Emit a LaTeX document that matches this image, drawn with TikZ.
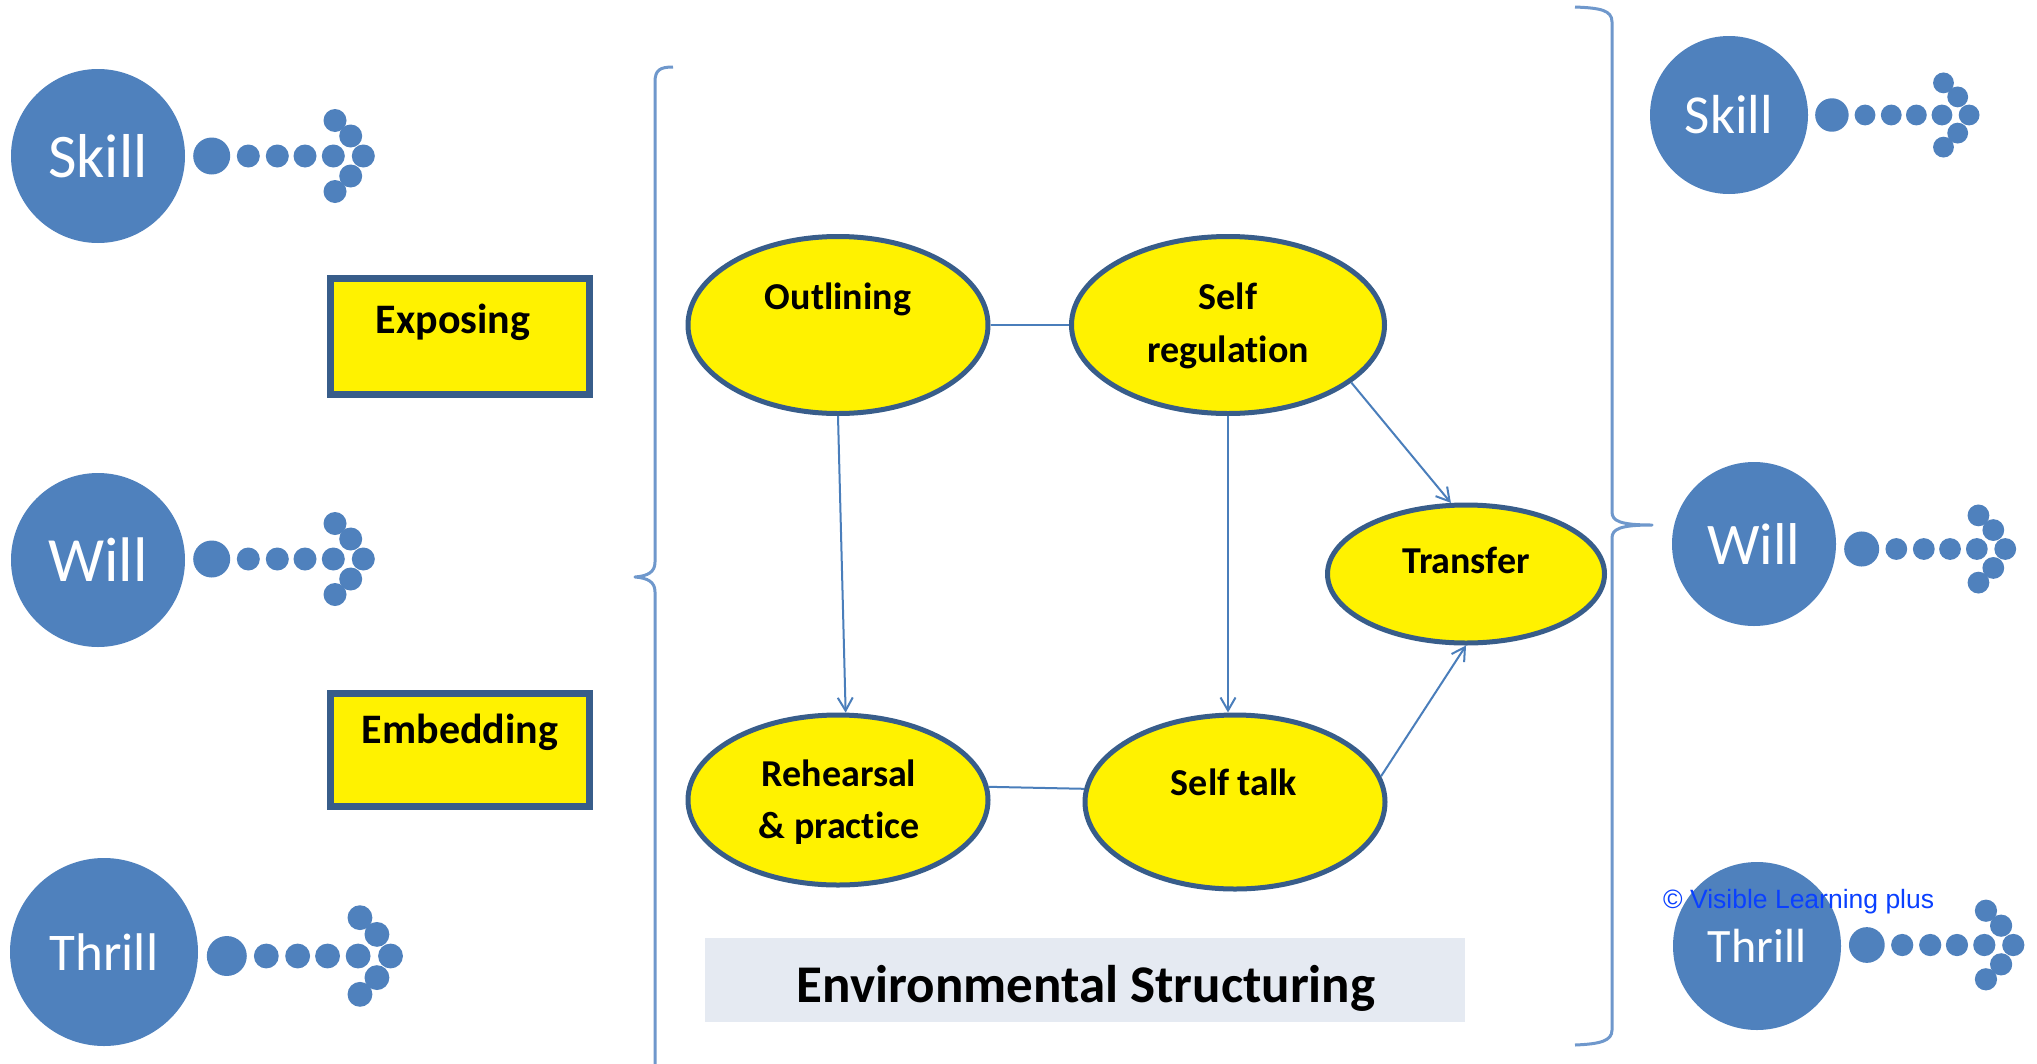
\documentclass[tikz,border=0pt]{standalone}
\usepackage{fontspec}
\setmainfont{Carlito}[Ligatures=NoCommon]
\newfontfamily\arialfont{Liberation Sans}
\usetikzlibrary{shapes.geometric,arrows.meta,calc}
\definecolor{circblue}{HTML}{4F81BD}
\definecolor{edgeblue}{HTML}{385D8A}
\definecolor{linkblue}{HTML}{4A7EBB}
\definecolor{bracecol}{HTML}{6F98CC}
\definecolor{envfill}{HTML}{E5EAF2}
\definecolor{copyblue}{HTML}{0A40FF}

\newcommand{\fs}[1]{\fontsize{#1}{#1}\selectfont}

% bubble with a dotted arrow: name, x, y, radius, arrow row y, scale, font size, text
\newcommand{\bubblerow}[8]{%
  \node[bubble, minimum size=2*#4, font=\fs{#7}] (#1) at (#2,#3) {#8};
  \begin{scope}[shift={(#2,#5)}, scale=#6]
    \fill[circblue] (113.7,0) circle[radius=18.5];
    \foreach \dx in {150.3,179.3,207,235.3,265.3}
      \fill[circblue] (\dx,0) circle[radius=11.5];
    \foreach \px/\py in {252.7/-20,237/-35.5,252.7/20,237/35.5}
      \fill[circblue] (\px,\py) circle[radius=11.5];
  \end{scope}}

\begin{document}
\begin{tikzpicture}[x=1pt,y=-1pt,
  bubble/.style={circle, fill=circblue, text=white, inner sep=0pt},
  stage/.style={ellipse, draw=edgeblue, line width=5pt, fill=yellow, inner sep=0pt},
  tagbox/.style={draw=edgeblue, line width=7pt, fill=yellow, inner sep=0pt},
  lbl/.style={font=\bfseries\fs{38}, anchor=base, inner sep=0pt},
  tagtext/.style={font=\bfseries\fs{42}, anchor=base, inner sep=0pt},
  link/.style={draw=linkblue, line width=2pt},
  arr/.style={link, -{Straight Barb[length=13pt,width=15pt]}},
  brace/.style={draw=bracecol, line width=3pt, line join=round}]

\useasboundingbox (0,0) rectangle (2037,1063);
\fill[white] (0,0) rectangle (2037,1063);

% left column
\bubblerow{skillL}{98}{156}{87}{156}{1}{62}{Skill}
\bubblerow{willL}{98}{560}{87}{559}{1}{63}{Will}
\bubblerow{thrillL}{104}{952}{94}{956}{1.08}{53}{Thrill}

% right column
\bubblerow{skillR}{1729}{115}{79}{115}{0.905}{55}{Skill}
\bubblerow{willR}{1754}{544}{82}{549}{0.947}{59}{Will}
\bubblerow{thrillR}{1757}{946}{84}{945}{0.966}{48}{Thrill}

% tag boxes
\node[tagbox, minimum width=259, minimum height=116] (exposing) at (460,336.5) {};
\node[tagtext] (exposingT) at (453,333) {Exposing};
\node[tagbox, minimum width=259, minimum height=113] (embedding) at (460,750) {};
\node[tagtext] (embeddingT) at (460,743) {Embedding};

% braces
\draw[brace] (673,67) .. controls (660,67) and (655,70) .. (655,82) -- (655,562)
  .. controls (655,572) and (648,576) .. (635,577)
  .. controls (648,578) and (655,582) .. (655,592) -- (655,1070);
\draw[brace] (1575,7) .. controls (1600,8) and (1612,10) .. (1612,22) -- (1612,512)
  .. controls (1612,521) and (1620,525) .. (1652,525)
  .. controls (1620,525) and (1612,529) .. (1612,538) -- (1612,1030)
  .. controls (1612,1041) and (1600,1044) .. (1575,1045);

% stages
\node[stage, minimum width=300, minimum height=177] (outlining) at (838,325) {};
\node[stage, minimum width=313, minimum height=177] (selfreg) at (1228,325) {};
\node[stage, minimum width=277, minimum height=138] (transfer) at (1466,574) {};
\node[stage, minimum width=300, minimum height=170] (rehearsal) at (838,800) {};
\node[stage, minimum width=300, minimum height=174] (selftalk) at (1235,802) {};

\node[lbl] (outliningT) at (838,309) {Outlining};
\node[lbl] (selfregT1) at (1228,309) {Self};
\node[lbl] (selfregT2) at (1228,362) {regulation};
\node[lbl] (transferT) at (1466,573) {Transfer};
\node[lbl] (rehearsalT1) at (839,786) {Rehearsal};
\node[lbl] (rehearsalT2) at (839,838) {\& practice};
\node[lbl] (selftalkT) at (1234,795) {Self talk};

% connectors
\draw[link] (outlining.east) -- (selfreg.west);
\draw[link] (rehearsal.5) -- (selftalk.175);
\draw[arr] (outlining.south) -- (rehearsal.85);
\draw[arr] (selfreg.south) -- (selfreg.south |- selftalk.north);
\draw[arr] (selfreg.-25) -- (transfer.102);
\draw[arr] (selftalk.10) -- (transfer.south);

% footer band
\node[fill=envfill, minimum width=760, minimum height=84, inner sep=0pt] (envbox) at (1085,980) {};
\node[font=\bfseries\fs{53}, anchor=base, inner sep=0pt] (envT) at (1086,1002) {Environmental Structuring};

% copyright line
\node[font=\arialfont\fs{26.5}, text=copyblue, anchor=base west, inner sep=0pt] (copy) at (1663,908) {© Visible Learning plus};
\end{tikzpicture}
\end{document}
